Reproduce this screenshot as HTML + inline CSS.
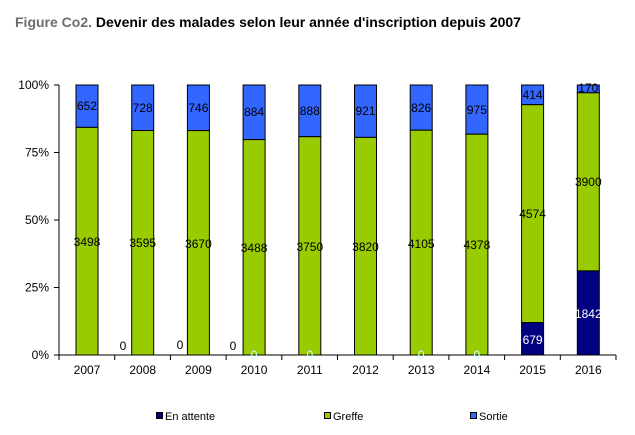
<!DOCTYPE html>
<html><head><meta charset="utf-8"><style>
body{margin:0;background:#fff;}
svg{display:block;font-family:"Liberation Sans",Arial,sans-serif;}
</style></head><body>
<svg width="635" height="435" viewBox="0 0 635 435" xmlns="http://www.w3.org/2000/svg">
<text x="15" y="27" font-size="14" font-weight="bold"><tspan fill="#6d6d6d">Figure Co2.</tspan><tspan fill="#000"> Devenir des malades selon leur année d'inscription depuis 2007</tspan></text>
<g stroke="#000" stroke-width="1">
<line x1="59" y1="85" x2="59" y2="355"/>
<line x1="54" y1="85" x2="59" y2="85"/><line x1="54" y1="152.5" x2="59" y2="152.5"/><line x1="54" y1="220" x2="59" y2="220"/><line x1="54" y1="287.5" x2="59" y2="287.5"/><line x1="54" y1="355" x2="59" y2="355"/>
<line x1="59" y1="355" x2="616" y2="355"/>
<line x1="59" y1="355" x2="59" y2="360"/><line x1="114.7" y1="355" x2="114.7" y2="360"/><line x1="170.4" y1="355" x2="170.4" y2="360"/><line x1="226.1" y1="355" x2="226.1" y2="360"/><line x1="281.8" y1="355" x2="281.8" y2="360"/><line x1="337.5" y1="355" x2="337.5" y2="360"/><line x1="393.2" y1="355" x2="393.2" y2="360"/><line x1="448.9" y1="355" x2="448.9" y2="360"/><line x1="504.6" y1="355" x2="504.6" y2="360"/><line x1="560.3" y1="355" x2="560.3" y2="360"/><line x1="616" y1="355" x2="616" y2="360"/>
</g>
<g font-size="12" fill="#000" text-anchor="end">
<text x="49" y="89">100%</text><text x="49" y="156.5">75%</text><text x="49" y="224">50%</text><text x="49" y="291.5">25%</text><text x="49" y="359">0%</text>
</g>
<g stroke="#000" stroke-width="1">
<rect x="76" y="85" width="22" height="42.4" fill="#3366ff"/><rect x="76" y="127.4" width="22" height="227.6" fill="#99cc00"/>
<rect x="131.7" y="85" width="22" height="45.5" fill="#3366ff"/><rect x="131.7" y="130.5" width="22" height="224.5" fill="#99cc00"/>
<rect x="187.4" y="85" width="22" height="45.6" fill="#3366ff"/><rect x="187.4" y="130.6" width="22" height="224.4" fill="#99cc00"/>
<rect x="243.1" y="85" width="22" height="54.6" fill="#3366ff"/><rect x="243.1" y="139.6" width="22" height="215.4" fill="#99cc00"/>
<rect x="298.8" y="85" width="22" height="51.7" fill="#3366ff"/><rect x="298.8" y="136.7" width="22" height="218.3" fill="#99cc00"/>
<rect x="354.5" y="85" width="22" height="52.4" fill="#3366ff"/><rect x="354.5" y="137.4" width="22" height="217.6" fill="#99cc00"/>
<rect x="410.2" y="85" width="22" height="45.2" fill="#3366ff"/><rect x="410.2" y="130.2" width="22" height="224.8" fill="#99cc00"/>
<rect x="465.9" y="85" width="22" height="49.2" fill="#3366ff"/><rect x="465.9" y="134.2" width="22" height="220.8" fill="#99cc00"/>
<rect x="521.6" y="85" width="22" height="19.7" fill="#3366ff"/><rect x="521.6" y="104.7" width="22" height="217.9" fill="#99cc00"/><rect x="521.6" y="322.6" width="22" height="32.4" fill="#000080"/>
<rect x="577.3" y="85" width="22" height="7.8" fill="#3366ff"/><rect x="577.3" y="92.8" width="22" height="178.1" fill="#99cc00"/><rect x="577.3" y="270.9" width="22" height="84.1" fill="#000080"/>
</g>
<g font-size="12" fill="#000" text-anchor="middle">
<text x="87" y="110">652</text><text x="87" y="246">3498</text>
<text x="142.7" y="112">728</text><text x="142.7" y="247">3595</text>
<text x="198.4" y="112">746</text><text x="198.4" y="248">3670</text>
<text x="254.1" y="116">884</text><text x="254.1" y="252">3488</text>
<text x="309.8" y="115">888</text><text x="309.8" y="251">3750</text>
<text x="365.5" y="115">921</text><text x="365.5" y="251">3820</text>
<text x="421.2" y="112">826</text><text x="421.2" y="248">4105</text>
<text x="476.9" y="114">975</text><text x="476.9" y="249">4378</text>
<text x="532.6" y="99">414</text><text x="532.6" y="218">4574</text>
<text x="588.3" y="92">170</text><text x="588.3" y="186">3900</text>
<text x="123" y="350">0</text><text x="180" y="349">0</text><text x="233" y="350">0</text>
</g>
<g font-size="12" fill="#fff" text-anchor="middle">
<text x="532.6" y="344">679</text><text x="588.3" y="318">1842</text>
<text x="254.1" y="359" fill="#ccffff">0</text><text x="309.8" y="359" fill="#ccffff">0</text><text x="421.2" y="359" fill="#ccffff">0</text><text x="476.9" y="359" fill="#ccffff">0</text>
</g>
<g font-size="12" fill="#000" text-anchor="middle">
<text x="87" y="374">2007</text><text x="142.7" y="374">2008</text><text x="198.4" y="374">2009</text><text x="254.1" y="374">2010</text><text x="309.8" y="374">2011</text><text x="365.5" y="374">2012</text><text x="421.2" y="374">2013</text><text x="476.9" y="374">2014</text><text x="532.6" y="374">2015</text><text x="588.3" y="374">2016</text>
</g>
<g stroke="#000" stroke-width="1">
<rect x="156.5" y="412.5" width="6" height="6" fill="#000080"/>
<rect x="324.5" y="412.5" width="6" height="6" fill="#99cc00"/>
<rect x="470.5" y="412.5" width="6" height="6" fill="#3366ff"/>
</g>
<g font-size="11" fill="#000">
<text x="165" y="420">En attente</text>
<text x="333" y="420">Greffe</text>
<text x="479" y="420">Sortie</text>
</g>
</svg>
</body></html>
